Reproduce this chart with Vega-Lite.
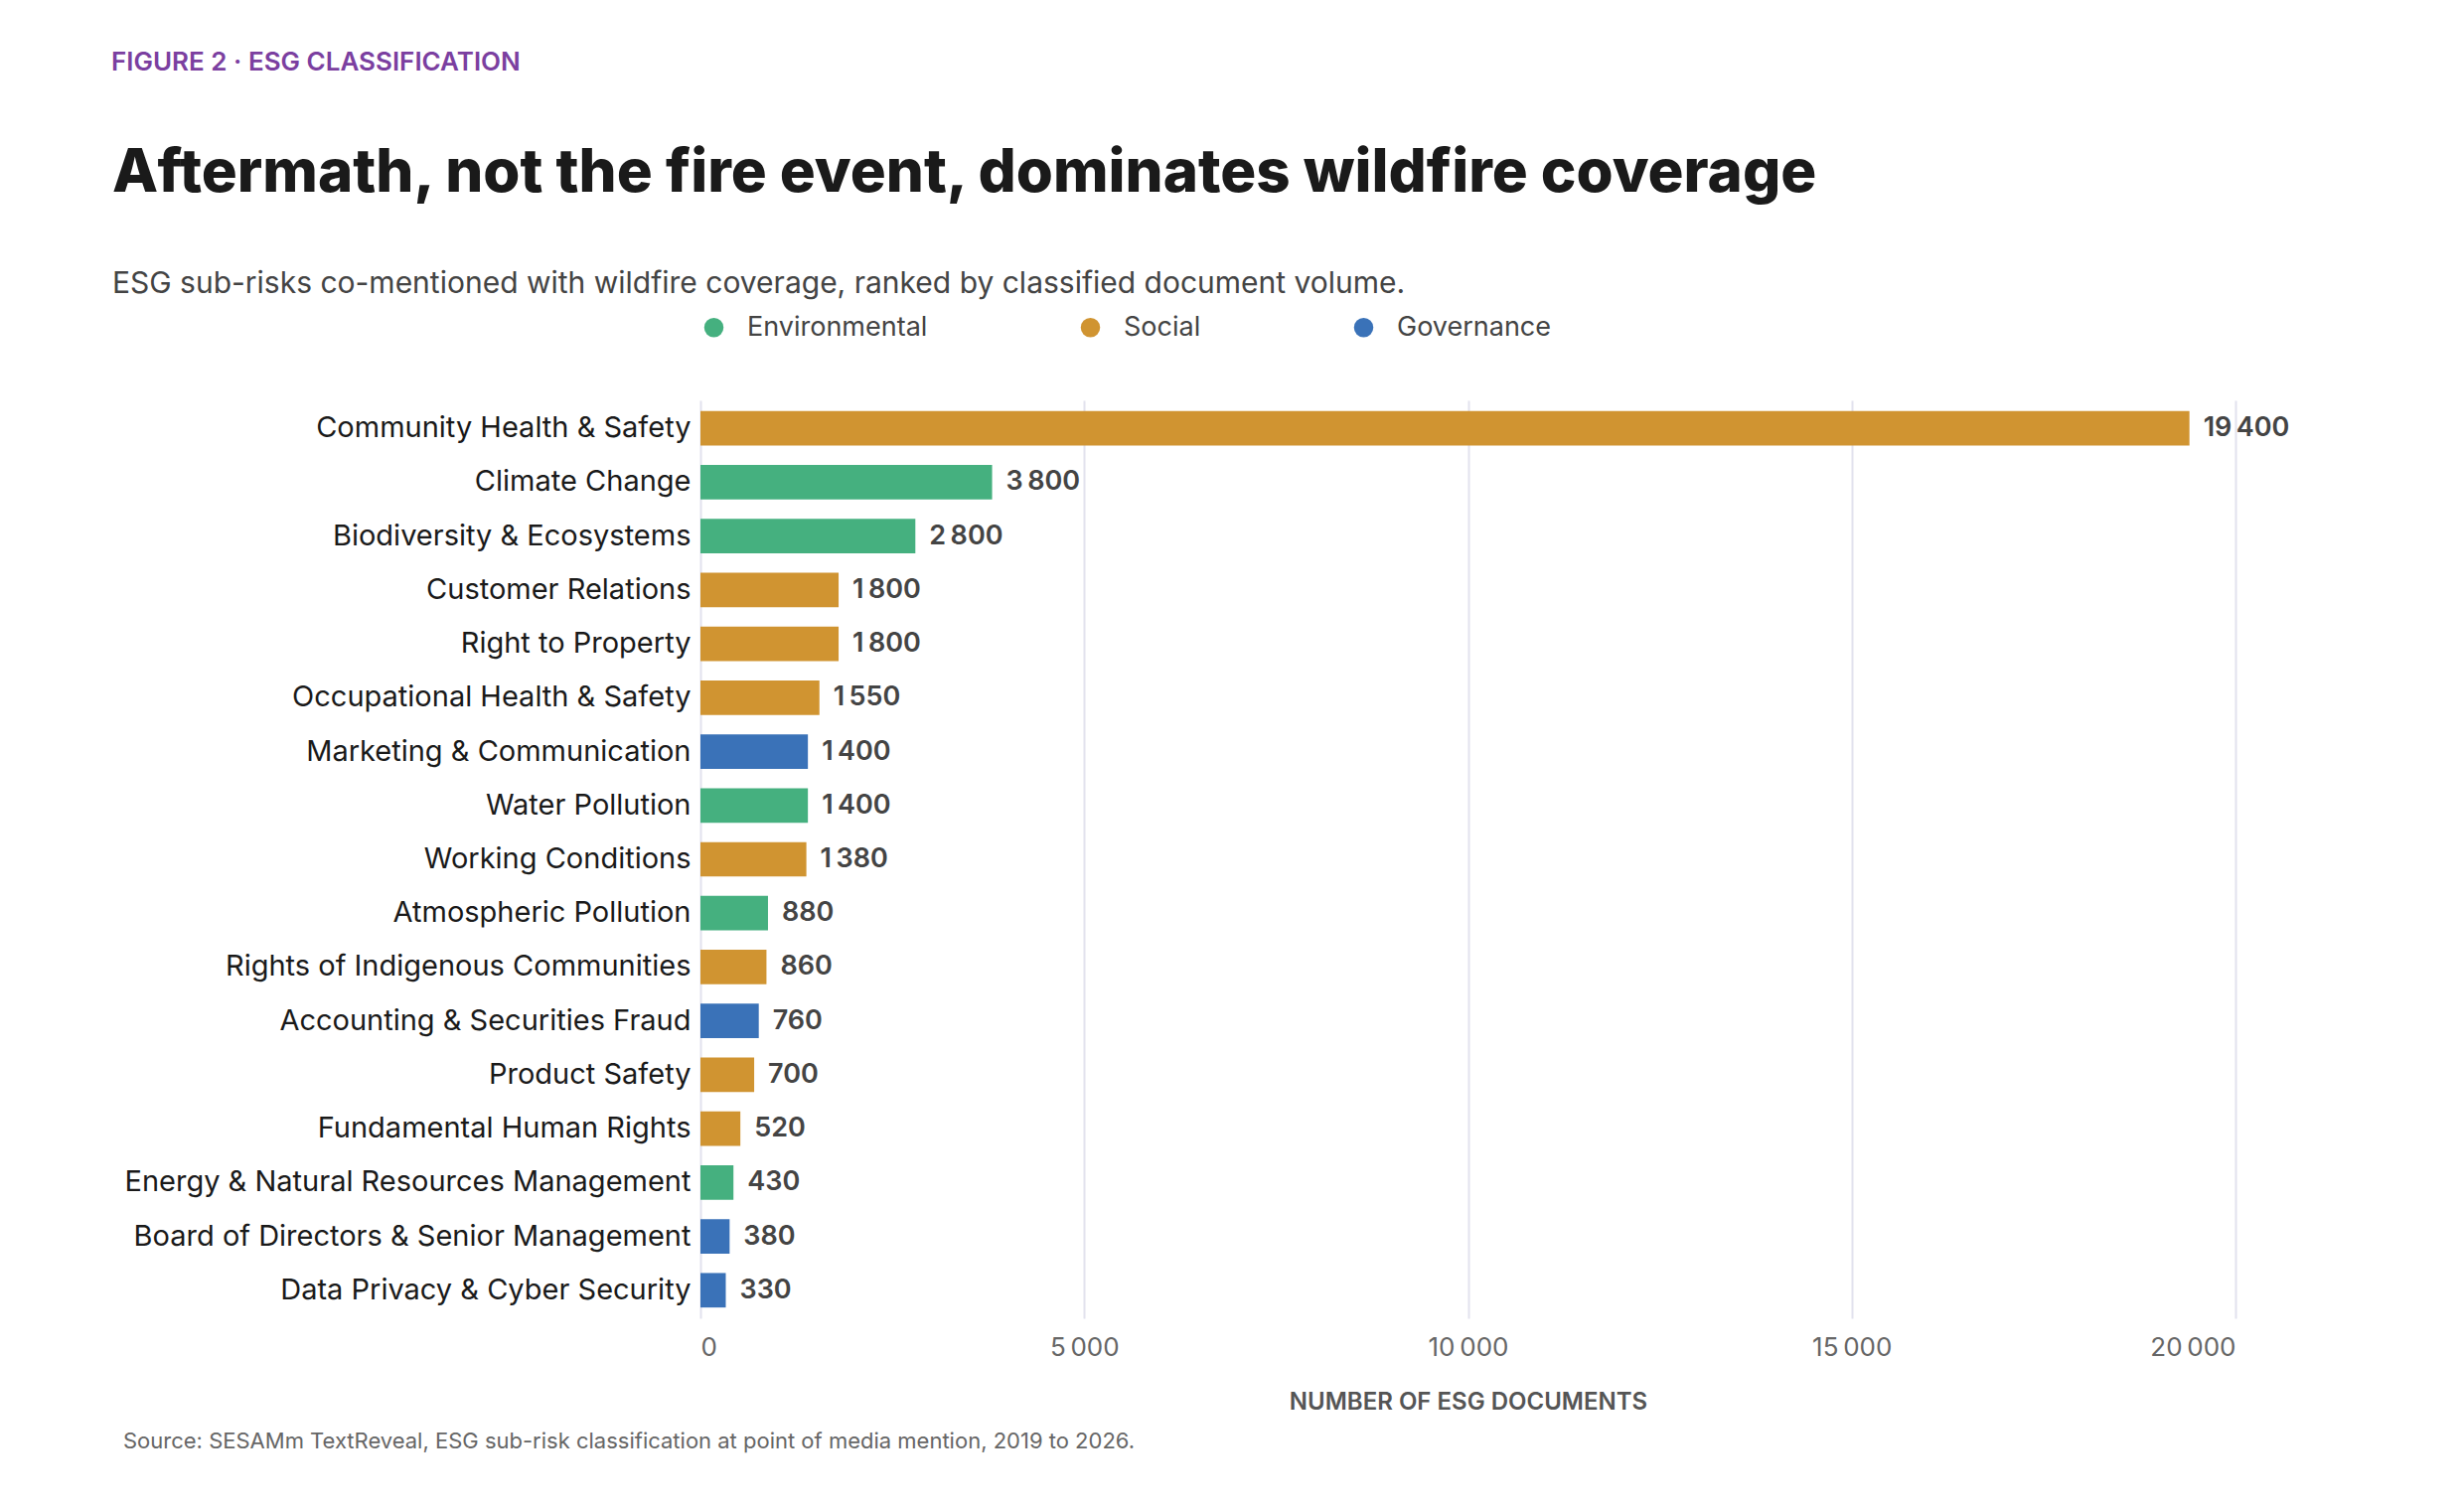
{
  "$schema": "https://vega.github.io/schema/vega-lite/v6.json",
  "padding": {"left": 111, "top": 50, "right": 40, "bottom": 20},
  "background": "white",
  "config": {
    "font": "Inter",
    "view": {"stroke": null},
    "locale": {"number": {"decimal": ".", "thousands": "\u2009", "grouping": [3], "currency": ["", ""]}},
    "concat": {"spacing": 0}
  },
  "resolve": {"legend": {"color": "independent"}},
  "title": {
    "text": "Source: SESAMm TextReveal, ESG sub-risk classification at point of media mention, 2019 to 2026.",
    "orient": "bottom", "anchor": "start", "frame": "bounds",
    "fontSize": 22, "fontWeight": "normal", "color": "#666666", "font": "Inter", "offset": 18, "dx": 12
  },
  "vconcat": [
    {
      "title": {
        "text": "FIGURE 2 · ESG CLASSIFICATION",
        "anchor": "start", "frame": "bounds", "fontSize": 26, "fontWeight": 600,
        "color": "#7B3FA0", "font": "Inter", "offset": 69, "dx": -1
      },
      "resolve": {"legend": {"color": "independent"}},
      "vconcat": [
        {
          "width": 1545,
          "height": 924,
          "title": {
            "text": "Aftermath, not the fire event, dominates wildfire coverage",
            "subtitle": "ESG sub-risks co-mentioned with wildfire coverage, ranked by classified document volume.",
            "anchor": "start", "frame": "bounds", "fontSize": 60, "fontWeight": 800,
            "color": "#1a1a1a", "font": "Inter", "subtitleFont": "Inter", "subtitleFontSize": 30,
            "subtitleColor": "#444444", "subtitlePadding": 65, "offset": 14, "dx": -12
          },
          "data": {
            "values": [
              {"risk": "Community Health & Safety", "pillar": "Social", "docs": 19400},
              {"risk": "Climate Change", "pillar": "Environmental", "docs": 3800},
              {"risk": "Biodiversity & Ecosystems", "pillar": "Environmental", "docs": 2800},
              {"risk": "Customer Relations", "pillar": "Social", "docs": 1800},
              {"risk": "Right to Property", "pillar": "Social", "docs": 1800},
              {"risk": "Occupational Health & Safety", "pillar": "Social", "docs": 1550},
              {"risk": "Marketing & Communication", "pillar": "Governance", "docs": 1400},
              {"risk": "Water Pollution", "pillar": "Environmental", "docs": 1400},
              {"risk": "Working Conditions", "pillar": "Social", "docs": 1380},
              {"risk": "Atmospheric Pollution", "pillar": "Environmental", "docs": 880},
              {"risk": "Rights of Indigenous Communities", "pillar": "Social", "docs": 860},
              {"risk": "Accounting & Securities Fraud", "pillar": "Governance", "docs": 760},
              {"risk": "Product Safety", "pillar": "Social", "docs": 700},
              {"risk": "Fundamental Human Rights", "pillar": "Social", "docs": 520},
              {"risk": "Energy & Natural Resources Management", "pillar": "Environmental", "docs": 430},
              {"risk": "Board of Directors & Senior Management", "pillar": "Governance", "docs": 380},
              {"risk": "Data Privacy & Cyber Security", "pillar": "Governance", "docs": 330}
            ]
          },
          "encoding": {
            "y": {
              "field": "risk", "type": "nominal", "sort": null, "title": null,
              "scale": {"paddingInner": 0.36, "paddingOuter": 0.2},
              "axis": {"labelFontSize": 29, "labelColor": "#1a1a1a", "ticks": false, "domain": false, "labelPadding": 10, "labelLimit": 800}
            },
            "x": {
              "field": "docs", "type": "quantitative", "scale": {"domain": [0, 20000]},
              "title": "NUMBER OF ESG DOCUMENTS",
              "axis": {
                "values": [0, 5000, 10000, 15000, 20000], "format": ",d",
                "grid": true, "gridColor": "#E2E2EE", "gridWidth": 2, "domain": false, "ticks": false,
                "labelFontSize": 26, "labelColor": "#666666", "labelPadding": 16,
                "titleFontSize": 24, "titleFontWeight": 600, "titleColor": "#555555", "titlePadding": 30
              }
            }
          },
          "layer": [
            {
              "mark": {"type": "bar"},
              "encoding": {
                "color": {
                  "field": "pillar", "type": "nominal",
                  "scale": {"domain": ["Environmental", "Social", "Governance"], "range": ["#45B07F", "#D09431", "#3A72B8"]},
                  "legend": {
                    "title": null, "orient": "top", "direction": "horizontal", "symbolType": "circle",
                    "symbolSize": 380, "labelFontSize": 27, "labelColor": "#444444", "columnPadding": 150,
                    "offset": 60, "labelOffset": 20, "labelLimit": 400
                  }
                }
              }
            },
            {
              "mark": {"type": "text", "align": "left", "dx": 14, "fontSize": 27, "fontWeight": 600, "color": "#444444"},
              "encoding": {"text": {"field": "docs", "type": "quantitative", "format": ",d"}}
            }
          ]
        }
      ]
    }
  ]
}
